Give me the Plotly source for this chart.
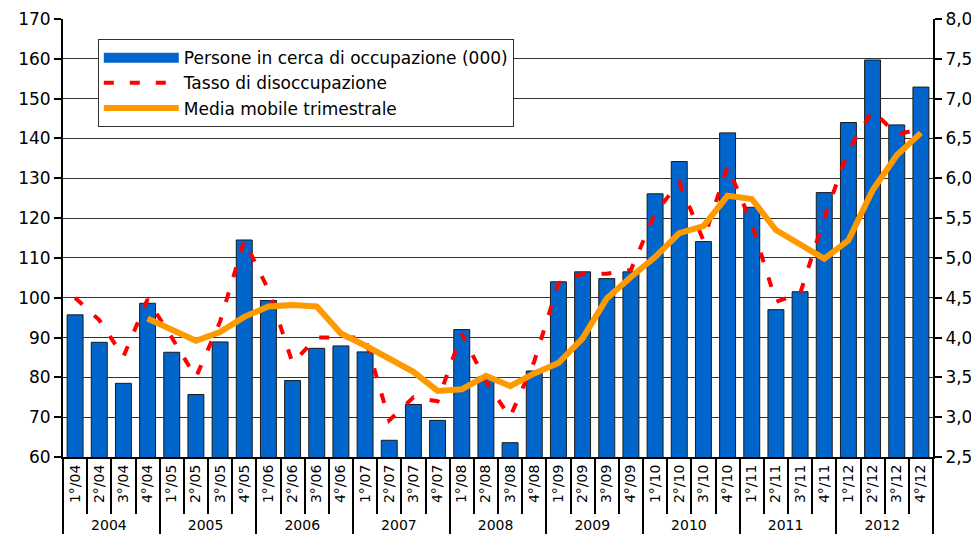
import plotly.graph_objects as go

years = ['2004', '2005', '2006', '2007', '2008', '2009', '2010', '2011', '2012']
quarters = ['1°', '2°', '3°', '4°']

# persone in cerca di occupazione (migliaia), trimestrale
persone = [95.7, 88.8, 78.5, 98.6,
           86.3, 75.7, 88.9, 114.5,
           99.3, 79.2, 87.3, 87.9,
           86.4, 64.2, 73.2, 69.2,
           92.0, 80.1, 63.6, 81.6,
           104.0, 106.5, 104.8, 106.5,
           126.1, 134.2, 114.1, 141.4,
           122.7, 97.0, 101.5, 126.4,
           144.0, 159.7, 143.4, 152.9]

# tasso di disoccupazione (%)
tasso = [4.50, 4.22, 3.76, 4.48,
         4.00, 3.50, 4.20, 5.22,
         4.60, 3.68, 4.00, 4.00,
         4.00, 2.96, 3.25, 3.20,
         4.05, 3.45, 3.00, 3.70,
         4.68, 4.80, 4.80, 4.85,
         5.56, 5.95, 5.22, 6.15,
         5.43, 4.45, 4.55, 5.50,
         6.35, 6.85, 6.55, 6.62]

# media mobile trimestrale (dal 4° trim. 2004)
media = [None, None, None, 4.24,
         4.11, 3.96, 4.07, 4.26,
         4.39, 4.41, 4.39, 4.05,
         3.90, 3.74, 3.57, 3.33,
         3.35, 3.52, 3.39, 3.55,
         3.68, 3.99, 4.49, 4.76,
         5.01, 5.31, 5.40, 5.78,
         5.74, 5.35, 5.18, 4.99,
         5.22, 5.85, 6.29, 6.57]

outer = [y for y in years for q in quarters]
inner = [q + '/' + y[2:] for y in years for q in quarters]
x = [outer, inner]

font = 'DejaVu Sans'
bar_color = '#0066CC'

fig = go.Figure()

fig.add_trace(go.Bar(
    x=x, y=persone, showlegend=False,
    name='Persone in cerca di occupazione (000)',
    marker={'color': bar_color, 'line': {'color': '#1a1a1a', 'width': 1}}))

# legend entry only: wide rectangle like the original legend key
fig.add_trace(go.Scatter(
    x=[None], y=[None], mode='lines',
    name='Persone in cerca di occupazione (000)',
    line={'color': bar_color, 'width': 13}))

fig.add_trace(go.Scatter(
    x=x, y=tasso, yaxis='y2', mode='lines',
    name='Tasso di disoccupazione',
    line={'color': '#FF0000', 'width': 4, 'dash': '10px,16px'}))

fig.add_trace(go.Scatter(
    x=x, y=media, yaxis='y2', mode='lines',
    name='Media mobile trimestrale',
    line={'color': '#FF9900', 'width': 6}))

# page body adds an 8px offset, so the figure is made 8px smaller
fig.update_layout(
    width=971, height=541,
    margin={'l': 55, 'r': 46, 't': 11, 'b': 92},
    paper_bgcolor='white', plot_bgcolor='white',
    separators=',.',
    bargap=0.34,
    font={'family': font, 'color': 'black', 'size': 17},
    showlegend=True,
    legend={'x': 0.04, 'y': 0.954, 'xanchor': 'left', 'yanchor': 'top',
            'bgcolor': 'white', 'bordercolor': '#333333', 'borderwidth': 1,
            'font': {'family': font, 'size': 17, 'color': 'black'},
            'itemwidth': 75, 'tracegroupgap': 0},
    xaxis={'type': 'multicategory', 'tickangle': -90, 'automargin': False,
           'tickfont': {'family': font, 'size': 14},
           'showline': True, 'linecolor': 'black', 'linewidth': 2,
           'ticks': 'outside', 'tickson': 'boundaries', 'ticklen': 55,
           'tickwidth': 2, 'tickcolor': 'black',
           'showdividers': True, 'dividercolor': 'black', 'dividerwidth': 2,
           'showgrid': False},
    yaxis={'range': [60, 170], 'dtick': 10, 'tick0': 60, 'automargin': False,
           'showline': True, 'linecolor': 'black', 'linewidth': 2,
           'ticks': 'outside', 'ticklen': 7, 'tickwidth': 2, 'tickcolor': 'black',
           'showgrid': True, 'gridcolor': '#333333', 'gridwidth': 1,
           'zeroline': False, 'tickfont': {'size': 17}},
    yaxis2={'range': [2.5, 8.0], 'dtick': 0.5, 'tick0': 2.5, 'tickformat': '.1f',
            'overlaying': 'y', 'side': 'right', 'automargin': False,
            'showline': True, 'linecolor': 'black', 'linewidth': 2,
            'ticks': 'outside', 'ticklen': 7, 'tickwidth': 2, 'tickcolor': 'black',
            'showgrid': False, 'zeroline': False, 'tickfont': {'size': 17}},
)

fig.write_html('out.html')
